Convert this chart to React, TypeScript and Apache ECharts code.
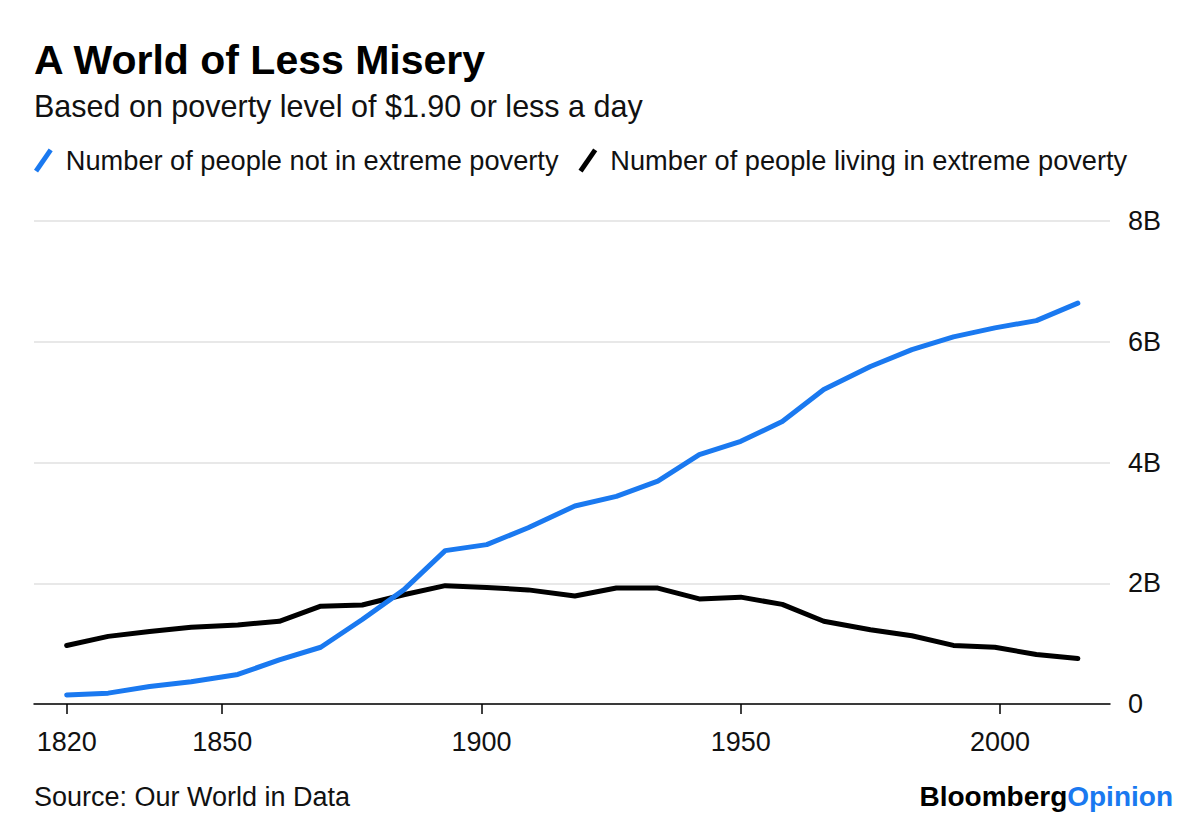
import React, { useEffect, useRef } from "react";
import * as echarts from "echarts";

const TITLE = "A World of Less Misery";
const SUBTITLE = "Based on poverty level of $1.90 or less a day";
const SOURCE = "Source: Our World in Data";
const SERIES_NAMES = [
  "Number of people not in extreme poverty",
  "Number of people living in extreme poverty",
];
const years = [
  1820, 1828, 1836, 1844, 1853, 1861, 1869, 1877, 1885, 1893, 1901, 1909, 1918,
  1926, 1934, 1942, 1950, 1958, 1966, 1975, 1983, 1991, 1999, 2007, 2015,
];
// billions
const notPoor = [
  0.15, 0.18, 0.29, 0.37, 0.49, 0.73, 0.94, 1.4, 1.89, 2.54, 2.64, 2.92, 3.28,
  3.44, 3.69, 4.13, 4.35, 4.68, 5.21, 5.59, 5.87, 6.08, 6.23, 6.35, 6.64,
];
const poor = [
  0.97, 1.12, 1.2, 1.27, 1.31, 1.37, 1.62, 1.64, 1.81, 1.96, 1.93, 1.89, 1.79,
  1.92, 1.92, 1.74, 1.77, 1.65, 1.37, 1.23, 1.13, 0.97, 0.94, 0.82, 0.755,
];
const xTicks = [1820, 1850, 1900, 1950, 2000];

const BLUE = "#1a79f0";
const FONT = "'Liberation Sans', Arial, Helvetica, sans-serif";
const ICON = "path://M0.6,21.4 L15.0,0.6 L19.0,3.4 L4.6,24.2 Z";

export default function App() {
  const ref = useRef<HTMLDivElement>(null);
  useEffect(() => {
    document.body.style.margin = "0";
    const chart = echarts.init(ref.current!, null, { renderer: "svg" });
    chart.setOption({
      animation: false,
      backgroundColor: "#ffffff",
      textStyle: { fontFamily: FONT },
      title: [
        {
          text: TITLE,
          left: 34,
          top: 39,
          padding: 0,
          textStyle: { fontFamily: FONT, fontSize: 41, fontWeight: "bold", color: "#000" },
        },
        {
          text: SUBTITLE,
          left: 34,
          top: 90,
          padding: 0,
          textStyle: { fontFamily: FONT, fontSize: 30.5, fontWeight: "normal", color: "#111" },
        },
        {
          text: SOURCE,
          left: 34,
          top: 783,
          padding: 0,
          textStyle: { fontFamily: FONT, fontSize: 27, fontWeight: "normal", color: "#111" },
        },
        {
          text: "{a|Bloomberg}{b|Opinion}",
          right: 27,
          top: 782,
          padding: 0,
          textStyle: {
            rich: {
              a: { fontFamily: FONT, fontSize: 28, fontWeight: 900, color: "#000" },
              b: { fontFamily: FONT, fontSize: 28, fontWeight: 900, color: BLUE },
            },
          },
        },
      ],
      legend: {
        left: 34,
        top: 147,
        padding: 0,
        itemGap: 20,
        itemWidth: 19,
        itemHeight: 24,
        textStyle: {
          fontFamily: FONT,
          fontSize: 27.2,
          color: "#111",
          padding: [0, 0, 0, 8],
        },
        data: [
          { name: SERIES_NAMES[0], icon: ICON, itemStyle: { color: BLUE } },
          { name: SERIES_NAMES[1], icon: ICON, itemStyle: { color: "#000" } },
        ],
      },
      grid: { left: 34, right: 90, top: 221, bottom: 122, containLabel: false },
      xAxis: {
        type: "value",
        min: 1813.7,
        max: 2021.2,
        axisLine: { show: true, lineStyle: { color: "#000", width: 1.5 } },
        axisTick: {
          show: true,
          length: 10,
          customValues: xTicks,
          lineStyle: { color: "#000", width: 1.5 },
        },
        axisLabel: {
          customValues: xTicks,
          margin: 24,
          fontFamily: FONT,
          fontSize: 27,
          color: "#111",
          formatter: (v: number) => String(v),
        },
        splitLine: { show: false },
      },
      yAxis: {
        type: "value",
        position: "right",
        min: 0,
        max: 8,
        interval: 2,
        axisLine: { show: false },
        axisTick: { show: false },
        axisLabel: {
          margin: 18,
          fontFamily: FONT,
          fontSize: 27,
          color: "#111",
          formatter: (v: number) => (v === 0 ? "0" : `${v}B`),
        },
        splitLine: { show: true, lineStyle: { color: "#e8e8e8", width: 2 } },
      },
      series: [
        {
          name: SERIES_NAMES[0],
          type: "line",
          data: years.map((y, i) => [y, notPoor[i]]),
          symbol: "none",
          lineStyle: { color: BLUE, width: 5, cap: "round", join: "round" },
          itemStyle: { color: BLUE },
          z: 3,
        },
        {
          name: SERIES_NAMES[1],
          type: "line",
          data: years.map((y, i) => [y, poor[i]]),
          symbol: "none",
          lineStyle: { color: "#000", width: 5, cap: "round", join: "round" },
          itemStyle: { color: "#000" },
          z: 2,
        },
      ],
    });
    return () => chart.dispose();
  }, []);
  return <div ref={ref} style={{ width: 1200, height: 826 }} />;
}
